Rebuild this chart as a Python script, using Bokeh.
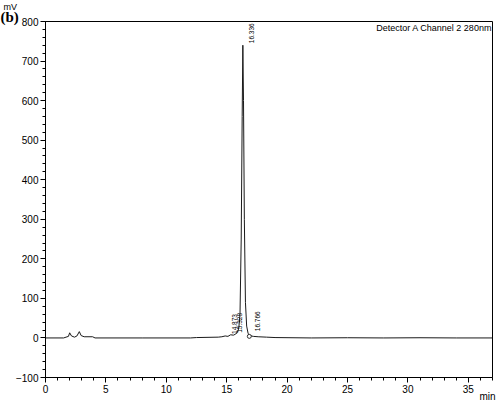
from bokeh.plotting import figure
from bokeh.models import SingleIntervalTicker, Range1d, Label, ColumnDataSource, Title
from bokeh.core.properties import value
from bokeh.embed import file_html
from bokeh.resources import INLINE
import math

# ---- data ----
time_min = [0.0, 1.5, 1.7, 1.9, 2.0, 2.15, 2.4, 2.6, 2.8, 2.95, 3.2, 3.9, 4.1,
            8.0, 12.0, 12.5, 14.3, 14.6, 14.873, 15.1, 15.328, 15.55, 15.75,
            15.9, 16.0, 16.1, 16.2, 16.28, 16.336, 16.39, 16.46, 16.55, 16.65,
            16.766, 16.9, 17.2, 17.6, 18.3, 19.0, 22.0, 25.0, 28.0, 31.0, 34.0, 37.0]
signal_mv = [0, 0, 2, 4, 13, 5, 2, 5, 16, 6, 3, 3, 0,
             0, 0, 1, 2, 3, 5, 4, 8, 7, 10,
             15, 25, 60, 250, 560, 740, 600, 300, 90, 30,
             12, 6, 4, 3, 2, 1, 0, 0.5, 0, 0.5, 0, 0]

peak_times = [14.873, 15.328, 16.336, 16.766]
peak_heights = [5, 8, 740, 12]
peak_labels = ["14.873", "15.328", "16.336", "16.766"]

x_ticks_interval = 5
y_ticks_interval = 100

FONT = value("Liberation Sans")

p = figure(width=497, height=401, output_backend="svg", title=None,
           toolbar_location=None, min_border_left=45, min_border_top=20,
           min_border_right=5, min_border_bottom=24,
           x_range=Range1d(0, 37), y_range=Range1d(-100, 800))
p.background_fill_color = "white"
p.border_fill_color = "white"
p.outline_line_color = "black"
p.outline_line_width = 1
p.grid.visible = False

for ax, interval in ((p.xaxis[0], x_ticks_interval), (p.yaxis[0], y_ticks_interval)):
    ax.ticker = SingleIntervalTicker(interval=interval, num_minor_ticks=5)
    ax.axis_line_color = "black"
    ax.major_tick_line_color = "black"
    ax.minor_tick_line_color = "black"
    ax.major_tick_in = 0
    ax.major_tick_out = 5
    ax.minor_tick_in = 0
    ax.minor_tick_out = 3
    ax.major_label_text_font = "Liberation Sans"
    ax.major_label_text_font_size = "10px"
    ax.major_label_text_color = "black"
    ax.major_label_standoff = 2

p.line(time_min, signal_mv, line_color="#1a1a1a", line_width=1)

src = ColumnDataSource(dict(x=peak_times, y=peak_heights, t=peak_labels))
p.text(x="x", y="y", text="t", source=src, angle=math.pi / 2,
       x_offset=9, y_offset=-2, text_font=FONT, text_font_size="6.5px",
       text_align="left", text_baseline="middle", text_color="black")
p.scatter([16.87], [4], marker="circle", size=4, fill_color="white",
          line_color="black", line_width=0.8)

# text inside the frame
p.add_layout(Label(x=36.99, y=797, text="Detector A Channel 2 280nm",
                   text_font="Liberation Sans", text_font_size="9px",
                   text_align="right", text_baseline="top", text_color="black"))

# texts outside the frame (titles are not clipped)
t_b = Title(text="(b)", align="left", offset=-45, standoff=-7,
            vertical_align="bottom", text_font="Liberation Serif",
            text_font_size="15px", text_font_style="bold", text_color="black")
t_mv = Title(text="mV", align="left", offset=-42, standoff=-2,
             vertical_align="bottom", text_font="Liberation Sans",
             text_font_size="9px", text_font_style="normal", text_color="black")
p.add_layout(t_b, "above")
p.add_layout(t_mv, "above")
t_min = Title(text="min", align="right", offset=-3, standoff=-12,
              vertical_align="middle", text_font="Liberation Sans",
              text_font_size="10px", text_font_style="normal", text_color="black")
p.add_layout(t_min, "below")

open("out.html", "w").write(file_html(p, INLINE))
